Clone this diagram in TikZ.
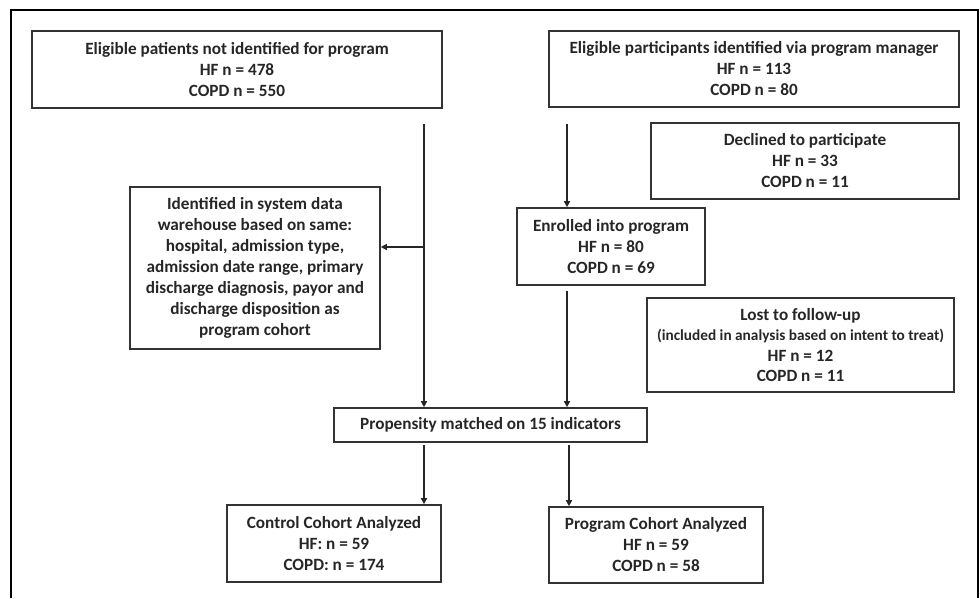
\documentclass[tikz,border=0pt]{standalone}
\usepackage{fontspec}
\setmainfont{Carlito}
\usetikzlibrary{arrows.meta}
\begin{document}
\begin{tikzpicture}[x=1pt,y=-1pt,
  box/.style={draw=black!80,line width=1.6pt,align=center,inner sep=0pt,
    font=\fontsize{17.2}{21}\selectfont\bfseries,text=black!85},
  conn/.style={line width=1.4pt,draw=black!85,-{Triangle[length=6pt,width=6pt]}},
  plain/.style={line width=1.4pt,draw=black!85}]
\useasboundingbox (0,0) rectangle (980,598);
\draw[line width=2pt] (11,598) -- (11,10) -- (978,10) -- (978,598);

\node[box,minimum width=410,minimum height=77] (b1) at (237,69.5)
  {Eligible patients not identified for program\\HF n = 478\\COPD n = 550};
\node[box,minimum width=410,minimum height=76] (b2) at (754,69)
  {Eligible participants identified via program manager\\HF n = 113\\COPD n = 80};
\node[box,minimum width=308,minimum height=76] (dec) at (805,161)
  {Declined to participate\\HF n = 33\\COPD n = 11};
\node[box,minimum width=188,minimum height=77] (enr) at (611,246.5)
  {Enrolled into program\\HF n = 80\\COPD n = 69};
\node[box,minimum width=250,minimum height=162] (idf) at (255,268)
  {Identified in system data\\warehouse based on same:\\hospital, admission type,\\admission date range, primary\\discharge diagnosis, payor and\\discharge disposition as\\program cohort};
\node[box,minimum width=307,minimum height=94,font=\fontsize{17.2}{20.3}\selectfont\bfseries] (lost) at (800.5,345)
  {Lost to follow-up\\{\fontsize{15.3}{20.3}\selectfont(included in analysis based on intent to treat)}\\HF n = 12\\COPD n = 11};
\node[box,minimum width=313,minimum height=34] (prop) at (490.5,425)
  {Propensity matched on 15 indicators};
\node[box,minimum width=214,minimum height=77] (ctl) at (334,543.5)
  {Control Cohort Analyzed\\HF: n = 59\\COPD: n = 174};
\node[box,minimum width=214,minimum height=76] (prg) at (656,545)
  {Program Cohort Analyzed\\HF n = 59\\COPD n = 58};

\coordinate (ls) at (424,124);
\coordinate (lm) at (424,247);
\coordinate (rs) at (567,124);
\coordinate (es) at (567,291);
\coordinate (p1) at (424,445);
\coordinate (p2) at (569,445);

\draw[plain] (ls) -- (lm);
\draw[conn] (lm) -- (idf.east |- lm);
\draw[conn] (lm) -- (lm |- prop.north);
\draw[conn] (rs) -- (rs |- enr.north);
\draw[conn] (es) -- (es |- prop.north);
\draw[conn] (p1) -- (p1 |- ctl.north);
\draw[conn] (p2) -- (p2 |- prg.north);
\end{tikzpicture}
\end{document}
